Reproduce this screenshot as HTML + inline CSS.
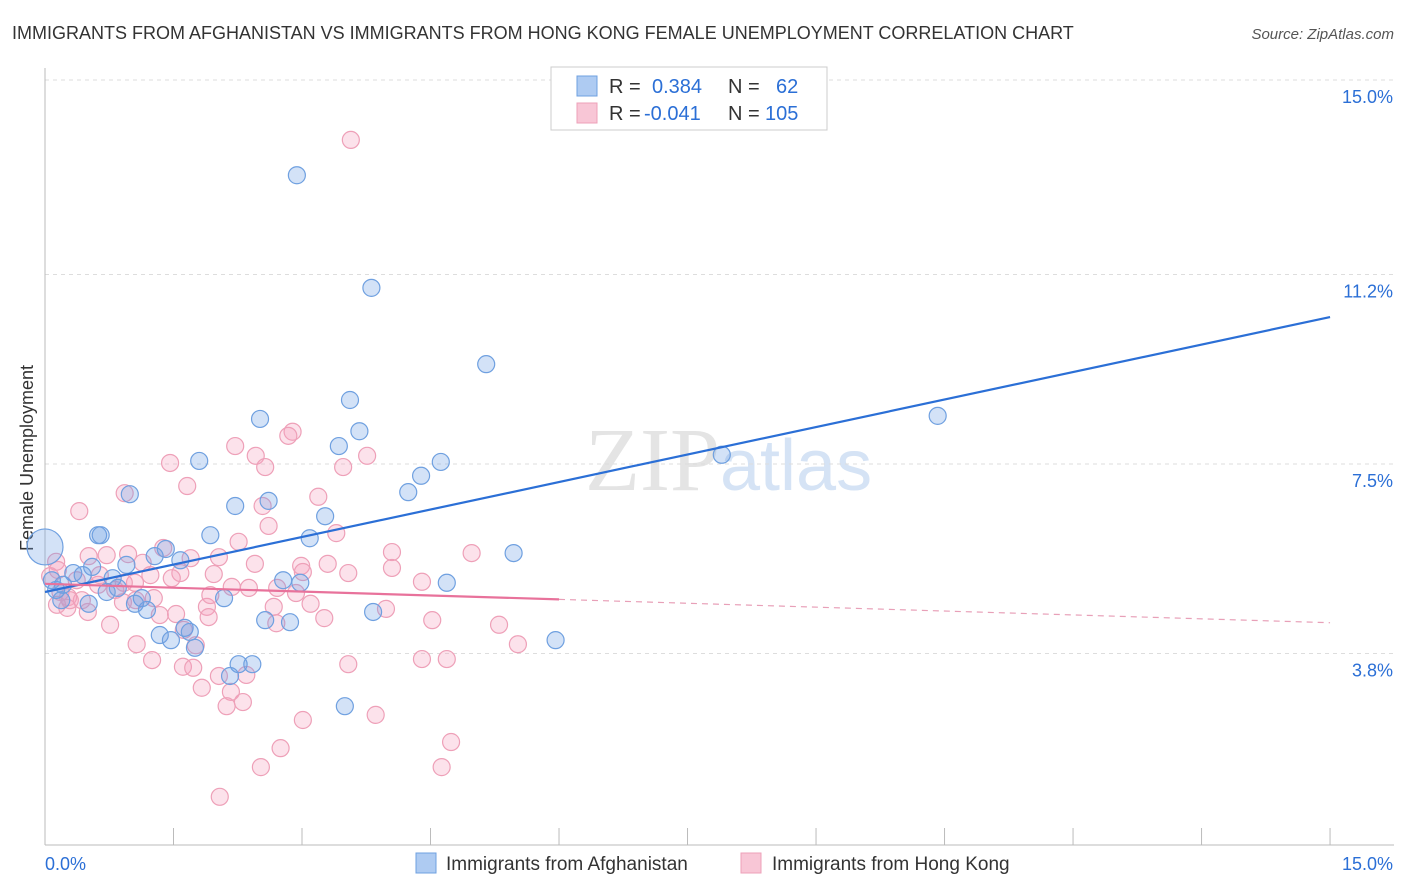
<!DOCTYPE html>
<html><head><meta charset="utf-8">
<style>
body{margin:0;background:#fff;font-family:"Liberation Sans",sans-serif;}
svg{display:block}
</style></head>
<body>
<svg id="chart" width="1406" height="892" viewBox="0 0 1406 892">
<text x="12" y="39" font-size="18" fill="#333">IMMIGRANTS FROM AFGHANISTAN VS IMMIGRANTS FROM HONG KONG FEMALE UNEMPLOYMENT CORRELATION CHART</text>
<text x="1394" y="39" font-size="15" fill="#555" font-style="italic" text-anchor="end">Source: ZipAtlas.com</text>
<text x="720" y="490" font-size="90" fill="#e4e4e4" font-family="Liberation Serif,serif" text-anchor="end">ZIP</text>
<text x="720" y="490" font-size="72" fill="#d5e3f5">atlas</text>
<text transform="translate(33,458) rotate(-90)" font-size="18" fill="#333" text-anchor="middle">Female Unemployment</text>
<g id="grid"></g><g id="pts"></g><g id="lines"></g>
<g>
<rect x="551" y="67" width="276" height="63" fill="#fff" stroke="#ccc"/>
<rect x="577" y="76" width="20" height="20" fill="#aecbf2" stroke="#6fa0e0"/>
<rect x="577" y="103" width="20" height="20" fill="#f8c6d6" stroke="#eea0b8"/>
<text x="609" y="93" font-size="20" fill="#333">R = <tspan fill="#2b6fd6" x="652">0.384</tspan><tspan x="728" fill="#333">N =</tspan><tspan x="776" fill="#2b6fd6">62</tspan></text>
<text x="609" y="120" font-size="20" fill="#333">R = <tspan fill="#2b6fd6" x="644">-0.041</tspan><tspan x="728" fill="#333">N =</tspan><tspan x="765" fill="#2b6fd6">105</tspan></text>
</g>
<g>
<rect x="416" y="853" width="20" height="20" fill="#aecbf2" stroke="#6fa0e0"/>
<text x="446" y="870" font-size="19" fill="#333">Immigrants from Afghanistan</text>
<rect x="741" y="853" width="20" height="20" fill="#f8c6d6" stroke="#eea0b8"/>
<text x="772" y="870" font-size="19" fill="#333">Immigrants from Hong Kong</text>
</g>
</svg>
<script>
const yTicks=[15.0,11.2,7.5,3.8];
const yTickLabels=["15.0%","11.2%","7.5%","3.8%"];
const xTickLabels=["0.0%","15.0%"];
const blueX=[2.94,3.81,5.15,3.56,2.51,3.67,3.43,1.80,4.62,7.90,10.42,4.39,4.24,0.99,2.61,2.22,3.27,0.62,0.65,1.93,3.09,5.47,1.28,1.41,1.58,0.95,0.55,0.33,0.44,0.79,0.08,0.21,2.78,2.98,4.69,0.85,0.72,2.09,1.13,1.19,0.51,0.19,3.83,2.57,2.86,1.63,1.69,1.34,1.47,1.75,5.96,2.26,2.42,2.16,3.50,0.13,1.05];
const blueY=[13.14,10.94,9.45,8.75,8.38,8.14,7.85,7.56,7.54,7.68,8.44,7.27,6.95,6.91,6.78,6.68,6.48,6.11,6.11,6.11,6.05,5.76,5.70,5.84,5.62,5.53,5.49,5.37,5.33,5.27,5.23,5.14,5.23,5.18,5.18,5.08,5.0,4.88,4.88,4.65,4.77,4.84,4.61,4.45,4.41,4.30,4.22,4.16,4.06,3.91,4.06,3.59,3.59,3.36,2.77,5.04,4.77];
const bigPoint=[0,5.88];
const pinkX=[3.57,0.40,0.93,1.46,1.66,2.22,2.46,2.57,2.89,2.84,3.76,3.48,3.19,2.54,2.61,3.40,2.26,0.72,0.97,0.51,1.38,1.70,2.03,1.14,2.45,2.99,3.30,4.05,4.98,1.58,1.97,1.48,3.54,4.05,3.01,4.40,0.13,0.06,0.18,0.27,0.37,0.62,0.82,0.91,1.06,1.27,1.34,1.53,1.89,1.93,2.38,2.71,2.93,2.67,3.10,3.26,3.98,4.52,5.30,5.52,0.76,1.07,1.25,1.61,1.73,2.03,2.35,1.83,2.17,2.12,2.31,3.54,4.40,4.69,3.86,3.01,2.75,2.52,4.74,4.63,2.04,0.26,0.50,0.14,0.43,0.64,1.76,1.62,2.18,1.05,2.70,1.91,1.23,0.92,0.15,0.29];
const pinkY=[13.83,6.58,6.93,7.52,7.07,7.85,7.66,7.44,8.13,8.05,7.66,7.44,6.86,6.68,6.29,6.15,5.98,5.72,5.74,5.70,5.86,5.66,5.68,5.57,5.55,5.51,5.55,5.78,5.76,5.37,5.35,5.27,5.37,5.47,5.39,5.20,5.59,5.31,5.00,4.90,5.23,5.14,5.04,4.80,4.84,4.88,4.55,4.57,4.71,4.94,5.08,5.08,4.98,4.71,4.77,4.49,4.67,4.45,4.36,3.98,4.36,3.98,3.67,3.54,3.52,3.36,3.38,3.13,3.05,2.77,2.85,3.59,3.69,3.69,2.60,2.50,1.95,1.58,2.07,1.58,1.00,4.69,4.61,4.75,4.84,5.33,3.96,4.26,5.10,5.18,4.39,4.51,5.33,5.18,5.43,4.84];
const blueTrend=[5.0,10.37];
const pinkTrend=[5.16,4.40];
const pinkSolidEnd=6.0;

const NS="http://www.w3.org/2000/svg";
const X=v=>45+v*85.67, Y=v=>80+(15-v)*51.2;
function mk(tag,attrs,parent){const e=document.createElementNS(NS,tag);for(const k in attrs)e.setAttribute(k,attrs[k]);parent.appendChild(e);return e;}
const grid=document.getElementById('grid'),pts=document.getElementById('pts'),lines=document.getElementById('lines'),svg=document.getElementById('chart');
yTicks.forEach((t,i)=>{
 const l=mk('line',{x1:45,x2:1394,y1:Y(t),y2:Y(t),stroke:'#ddd','stroke-dasharray':'4,4'},grid);
 
 
 const tx=mk('text',{x:1393,y:Y(t)+23,'font-size':18,fill:'#2b6fd6','text-anchor':'end'},svg);
 tx.textContent=yTickLabels[i];
 
 
});
const ax=mk('line',{x1:45,x2:45,y1:68,y2:845,stroke:'#bbb'},grid);


const bx=mk('line',{x1:45,x2:1394,y1:845,y2:845,stroke:'#bbb'},grid);


for(let i=0;i<=10;i++){const t=mk('line',{x1:X(i*1.5),x2:X(i*1.5),y1:828,y2:845,stroke:'#bbb'},grid);
 
 }
[[0,'start',45],[15,'end',1393]].forEach((a,i)=>{const t=mk('text',{x:a[2],y:870,'font-size':18,fill:'#2b6fd6','text-anchor':a[1]},svg);t.textContent=xTickLabels[i];
 
 });
pinkX.forEach((x,i)=>{const c=mk('circle',{cx:X(x),cy:Y(pinkY[i]),r:8.5,fill:'rgba(245,160,190,0.3)',stroke:'#eea0b8','stroke-width':1.2},pts);
 
 });
blueX.forEach((x,i)=>{const c=mk('circle',{cx:X(x),cy:Y(blueY[i]),r:8.5,fill:'rgba(110,160,230,0.3)',stroke:'#6fa0e0','stroke-width':1.2},pts);
 
 });
const bp=mk('circle',{cx:X(bigPoint[0]),cy:Y(bigPoint[1]),r:18,fill:'rgba(110,160,230,0.3)',stroke:'#6fa0e0','stroke-width':1.2},pts);


const bl=mk('line',{x1:X(0),y1:Y(blueTrend[0]),x2:X(15),y2:Y(blueTrend[1]),stroke:'#2b6fd6','stroke-width':2.2},lines);


const pm=pinkTrend[0]+(pinkTrend[1]-pinkTrend[0])*pinkSolidEnd/15;
const pl=mk('line',{x1:X(0),y1:Y(pinkTrend[0]),x2:X(pinkSolidEnd),y2:Y(pm),stroke:'#e8729b','stroke-width':2.2},lines);


const pd=mk('line',{x1:X(pinkSolidEnd),y1:Y(pm),x2:X(15),y2:Y(pinkTrend[1]),stroke:'#e8a0b8','stroke-width':1.2,'stroke-dasharray':'6,5'},lines);


</script>
</body></html>
